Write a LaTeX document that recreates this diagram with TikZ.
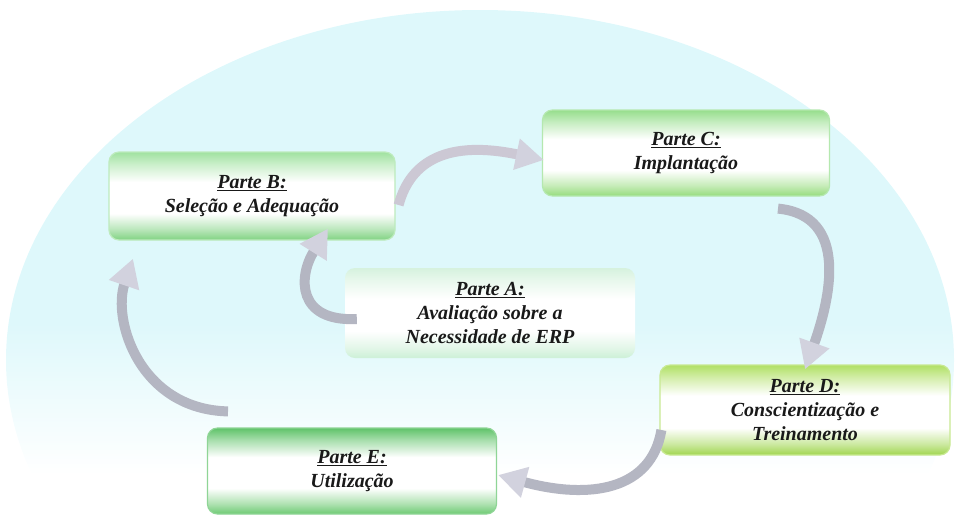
\documentclass[tikz,border=0pt]{standalone}
\usepackage{fontspec}
\setmainfont{Liberation Serif}
\usetikzlibrary{arrows.meta}

% colours
\definecolor{domecyan}{RGB}{222,248,251}
\definecolor{txt}{RGB}{25,25,25}
\definecolor{arrowgray}{RGB}{180,182,194}
\definecolor{headgray}{RGB}{210,210,222}
\definecolor{arrowpale}{RGB}{204,200,212}
\definecolor{gBtop}{RGB}{160,226,160}
\definecolor{gBbot}{RGB}{128,210,130}
\definecolor{gCtop}{RGB}{150,222,140}
\definecolor{gCbot}{RGB}{150,220,125}
\definecolor{gAtop}{RGB}{214,242,222}
\definecolor{gAbot}{RGB}{205,240,215}
\definecolor{gDtop}{RGB}{176,224,100}
\definecolor{gDbot}{RGB}{160,214,80}
\definecolor{gEtop}{RGB}{95,195,105}
\definecolor{gEbot}{RGB}{110,202,115}

% vertical green-white-green fill of the boxes (middle 25bp..75bp spans the box)
\newcommand{\mkboxshade}[3]{%
  \pgfdeclareverticalshading{#1}{100bp}{%
    color(0bp)=(#3); color(25bp)=(#3);
    color(31bp)=(#3!55!white); color(40bp)=(white);
    color(58bp)=(white); color(68bp)=(#2!55!white);
    color(75bp)=(#2); color(100bp)=(#2)}}
\mkboxshade{shB}{gBtop}{gBbot}
\mkboxshade{shC}{gCtop}{gCbot}
\mkboxshade{shA}{gAtop}{gAbot}
\mkboxshade{shD}{gDtop}{gDbot}
\mkboxshade{shE}{gEtop}{gEbot}

% backdrop: cyan dome fading to white at the bottom
\pgfdeclareverticalshading{domeshade}{100bp}{%
  color(0bp)=(white); color(29bp)=(white);
  color(44bp)=(domecyan); color(100bp)=(domecyan)}

\tikzset{
  part/.style={rounded corners=10pt, minimum width=286pt, minimum height=88pt,
    align=center, text=txt, inner sep=0pt,
    font=\bfseries\itshape\fontsize{20}{24}\selectfont},
  cyclearrow/.style={line width=10pt, color=arrowgray,
    -{Triangle[width=30pt,length=28pt,color=headgray]}}
}

\begin{document}
\begin{tikzpicture}[x=1pt,y=-1pt]
\useasboundingbox (0,0) rectangle (957,515);

% dome
\begin{scope}
  \clip (480,360) ellipse [x radius=474, y radius=350];
  \shade[shading=domeshade] (0,10) rectangle (957,515);
\end{scope}

% the five parts
\node[part, shade, shading=shB, draw=gBtop!70!white, line width=1.2pt] (B) at (252,196)
  {\underline{Parte B:}\\Seleção e Adequação};
\node[part, shade, shading=shC, draw=gCtop!70!white, line width=1.2pt, minimum width=287pt, minimum height=86pt] (C) at (686,153)
  {\underline{Parte C:}\\Implantação};
\node[part, shade, shading=shA, minimum width=290pt, minimum height=90pt] (A) at (490,313)
  {\underline{Parte A:}\\Avaliação sobre a\\Necessidade de ERP};
\node[part, shade, shading=shD, draw=gDtop!70!white, line width=1.2pt, minimum width=290pt, minimum height=90pt] (D) at (805,410)
  {\underline{Parte D:}\\Conscientização e\\Treinamento};
\node[part, shade, shading=shE, draw=gEtop!70!white, line width=1.2pt, minimum width=289pt, minimum height=86pt] (E) at (352,471)
  {\underline{Parte E:}\\Utilização};

% curved arrows of the cycle
\draw[cyclearrow] ([shift={(12,6)}]A.west)
  .. controls +(-60,3) and +(-30,48) .. ([shift={(76,-12)}]B.south);
\draw[cyclearrow, color=arrowpale] ([shift={(3,9)}]B.east)
  .. controls +(12,-45) and +(-95,-20) .. ([shift={(2,7)}]C.west);
\draw[cyclearrow] ([shift={(92,12)}]C.south)
  .. controls +(72,7) and +(25,-70) .. ([shift={(0,5)}]D.north);
\draw[cyclearrow] ([shift={(2,20)}]D.west)
  .. controls +(-10,60) and +(92,25) .. ([shift={(1,4)}]E.east);
\draw[cyclearrow] ([shift={(-124,-16)}]E.north)
  .. controls +(-88,-2) and +(-21,62) .. ([shift={(-119,18)}]B.south);
\end{tikzpicture}
\end{document}
